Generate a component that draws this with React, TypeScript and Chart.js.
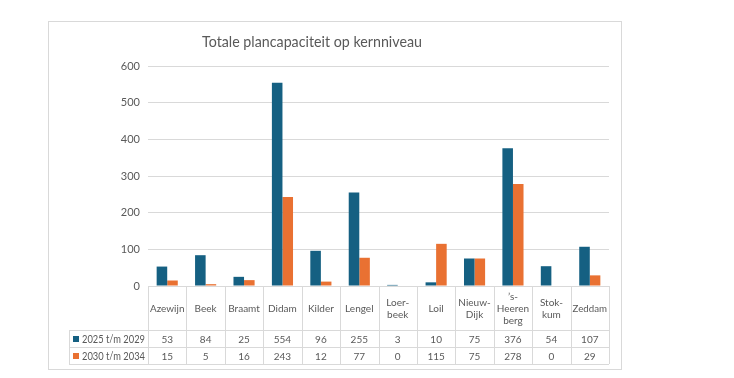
import React, { useEffect, useRef } from "react";
import { Chart, registerables } from "chart.js";

Chart.register(...registerables);

const categories: string[][] = [
  ["Azewijn"],
  ["Beek"],
  ["Braamt"],
  ["Didam"],
  ["Kilder"],
  ["Lengel"],
  ["Loer-", "beek"],
  ["Loil"],
  ["Nieuw-", "Dijk"],
  ["\u2019s-", "Heeren", "berg"],
  ["Stok-", "kum"],
  ["Zeddam"],
];
const series1Name = "2025 t/m 2029";
const series2Name = "2030 t/m 2034";
const series1 = [53, 84, 25, 554, 96, 255, 3, 10, 75, 376, 54, 107];
const series2 = [15, 5, 16, 243, 12, 77, 0, 115, 75, 278, 0, 29];
const yTicks = [0, 100, 200, 300, 400, 500, 600];
const titleText = "Totale plancapaciteit op kernniveau";

const BLUE = "#156082";
const ORANGE = "#E97132";
const TEXT = "#595959";
const GRID = "#d9d9d9";
const FONT = "Lato, 'Open Sans', sans-serif";

const tablePlugin = {
  id: "tablePlugin",
  beforeDraw(chart: any) {
    const ctx = chart.ctx;
    ctx.save();
    ctx.fillStyle = "#ffffff";
    ctx.fillRect(0, 0, chart.width, chart.height);
    ctx.strokeStyle = GRID;
    ctx.lineWidth = 1;
    ctx.strokeRect(48.5, 21.5, 573, 348);
    ctx.fillStyle = TEXT;
    ctx.font = `15px ${FONT}`;
    ctx.textAlign = "center";
    ctx.textBaseline = "middle";
    ctx.fillText(titleText, 312, 42, 220);
    ctx.restore();
  },
  afterDraw(chart: any) {
    const ctx = chart.ctx;
    const ca = chart.chartArea;
    const xs = chart.scales.x;
    const n = categories.length;
    const cw = ca.width / n;
    const top = ca.bottom;
    const hb = top + 44;
    const r1 = hb + 17;
    const r2 = r1 + 17;
    const legLeft = 69;
    ctx.save();
    ctx.strokeStyle = GRID;
    ctx.lineWidth = 1;
    ctx.beginPath();
    for (let i = 0; i <= n; i++) {
      const x = Math.round(ca.left + i * cw) + 0.5;
      ctx.moveTo(x, top);
      ctx.lineTo(x, r2);
    }
    ctx.moveTo(legLeft + 0.5, hb);
    ctx.lineTo(legLeft + 0.5, r2);
    ctx.moveTo(ca.left, top + 0.5);
    ctx.lineTo(ca.right, top + 0.5);
    [hb, r1, r2].forEach((y) => {
      ctx.moveTo(legLeft, y + 0.5);
      ctx.lineTo(ca.right, y + 0.5);
    });
    ctx.stroke();

    ctx.fillStyle = TEXT;
    ctx.font = `10px ${FONT}`;
    ctx.textAlign = "center";
    ctx.textBaseline = "middle";
    const hc = (top + hb) / 2;
    categories.forEach((lines, i) => {
      const cx = xs.getPixelForValue(i);
      const lh = 12;
      const start = hc - ((lines.length - 1) * lh) / 2;
      lines.forEach((t, j) => ctx.fillText(t, cx, start + j * lh + 1, cw - 4));
      ctx.fillText(String(series1[i]), cx, (hb + r1) / 2 + 1);
      ctx.fillText(String(series2[i]), cx, (r1 + r2) / 2 + 1);
    });
    const rows: [string, string, number][] = [
      [series1Name, BLUE, (hb + r1) / 2],
      [series2Name, ORANGE, (r1 + r2) / 2],
    ];
    ctx.font = `10.5px ${FONT}`;
    rows.forEach(([name, col, y]) => {
      ctx.fillStyle = col;
      ctx.fillRect(73, Math.round(y) - 3, 6, 6);
      ctx.fillStyle = TEXT;
      ctx.textAlign = "left";
      ctx.fillText(name, 82, y + 1, 63);
    });
    ctx.restore();
  },
};

export default function App() {
  const ref = useRef<HTMLCanvasElement>(null);
  useEffect(() => {
    if (!ref.current) return;
    const chart = new Chart(ref.current, {
      type: "bar",
      data: {
        labels: categories.map((c) => c.join(" ")),
        datasets: [
          {
            label: series1Name,
            data: series1,
            backgroundColor: BLUE,
            categoryPercentage: 0.55,
            barPercentage: 1,
          },
          {
            label: series2Name,
            data: series2,
            backgroundColor: ORANGE,
            categoryPercentage: 0.55,
            barPercentage: 1,
          },
        ],
      },
      options: {
        animation: false,
        responsive: false,
        layout: { padding: { left: 0, top: 66, right: 125, bottom: 92 } },
        plugins: { legend: { display: false }, title: { display: false }, tooltip: { enabled: false } },
        scales: {
          x: { display: false },
          y: {
            min: 0,
            max: 600,
            afterBuildTicks: (s: any) => {
              s.ticks = yTicks.map((v) => ({ value: v }));
            },
            afterFit: (s: any) => {
              s.width = 148;
            },
            border: { display: false },
            grid: { color: GRID, drawTicks: false },
            ticks: { color: TEXT, font: { family: FONT, size: 11 }, padding: 8 },
          },
        },
      },
      plugins: [tablePlugin],
    });
    return () => chart.destroy();
  }, []);
  return (
    <div style={{ position: "absolute", left: 0, top: 0, width: 734, height: 378 }}>
      <canvas ref={ref} width={734} height={378} />
    </div>
  );
}
